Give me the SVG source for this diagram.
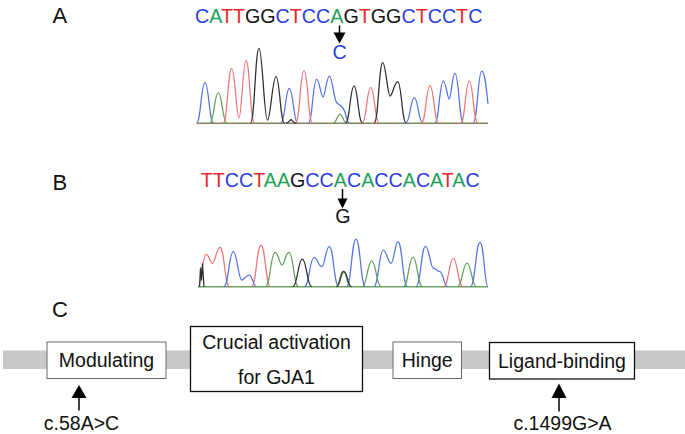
<svg xmlns="http://www.w3.org/2000/svg" width="685" height="434" viewBox="0 0 685 434">
<style>
text{font-family:"Liberation Sans",Arial,Helvetica,sans-serif;}
.lbl{font-size:22px;fill:#111;}
.seq{font-size:19.7px;}
.nA{fill:#1fa25a;}.nC{fill:#2b3ee0;}.nG{fill:#151515;}.nT{fill:#e8282c;}
.tr{fill:none;stroke-width:1.25;stroke-linejoin:round;}
.tb{stroke:#5273e6;}.tg{stroke:#62a05a;}.trd{stroke:#ee7676;}.tk{stroke:#2e2e2e;}
.box{fill:#fff;}
.thin{stroke:#6a6a6a;stroke-width:1;}
.thick{stroke:#111;stroke-width:1.3;}
.bt{font-size:19.5px;fill:#111;text-anchor:middle;}
.arr{stroke:#000;stroke-width:1.5;fill:none;}
</style>

<g id="panel-labels">
<text class="lbl" x="52.5" y="22.7">A</text>
<text class="lbl" x="52.5" y="190">B</text>
<text class="lbl" x="52" y="316.5">C</text>
</g>

<g id="seqA">
<text class="seq" x="195" y="22.7"><tspan class="nC">C</tspan><tspan class="nA">A</tspan><tspan class="nT">TT</tspan><tspan class="nG">GG</tspan><tspan class="nC">C</tspan><tspan class="nT">T</tspan><tspan class="nC">CC</tspan><tspan class="nA">A</tspan><tspan class="nG">G</tspan><tspan class="nT">T</tspan><tspan class="nG">GG</tspan><tspan class="nC">C</tspan><tspan class="nT">T</tspan><tspan class="nC">CC</tspan><tspan class="nT">T</tspan><tspan class="nC">C</tspan></text>
<line class="arr" x1="339.5" y1="25.5" x2="339.5" y2="33.5"/>
<polygon points="333.5,32.5 345.5,32.5 339.5,43.5" fill="#000"/>
<text class="seq nC" x="339.5" y="59.3" text-anchor="middle">C</text>
</g>

<g id="chromA">
<line x1="197" y1="123.3" x2="488" y2="123.3" stroke="#6f8f5a" stroke-width="1.4"/>
<line x1="197" y1="123.6" x2="488" y2="123.6" stroke="#d06a60" stroke-width="0.8" stroke-dasharray="7 9"/>
<path class="tr tb" d="M196.5,123 C200.75,123 201.2,82.7 205,82.7 C208.8,82.7 209.25,123 213.5,123
M280.8,123 C285.05,123 285.5,88.3 289.3,88.3 C293.1,88.3 293.55,123 297.8,123
M308.2,123 C312.45,123 312.9,79.3 316.7,79.3 C319.5,79.3 320.8,97 323,97 C325.2,97 326.5,76 329.3,76 C332.5,76 333.5,100 337,103 C340,105.5 343,106 345,112 C346.5,117 347,123 349.5,123
M405.8,123 C410.05,123 410.5,97.7 414.3,97.7 C418.1,97.7 418.55,123 422.8,123
M434.8,123 C439.05,123 439.5,81 443.3,81 C446,81 447.5,99 449.2,99 C451,99 452.3,73.3 455,73.3 C458.8,73.3 459.25,123 463.5,123
M473.2,123 C477.45,123 477.9,71 481.7,71 C485,71 486.5,90 488,104"/>
<path class="tr tg" d="M209.8,123 C214.05,123 214.5,92.7 218.3,92.7 C222.1,92.7 222.55,123 226.8,123
M333.5,123 C336.5,123 337.3,114 340,114 C342.7,114 343.5,123 346.5,123"/>
<path class="tr trd" d="M223.2,123 C227.45,123 227.9,68.3 231.7,68.3 C234.8,68.3 236.5,118 239,118 C241.5,118 243,60.7 246,60.7 C249.8,60.7 250.25,123 254.5,123
M295.5,123 C299.75,123 300.2,70.7 304,70.7 C307.8,70.7 308.25,123 312.5,123
M362.2,123 C366.45,123 366.9,87.7 370.7,87.7 C374.5,87.7 374.95,123 379.2,123
M421.5,123 C425.75,123 426.2,85.7 430,85.7 C433.8,85.7 434.25,123 438.5,123
M460.8,123 C465.05,123 465.5,81 469.3,81 C473.1,81 473.55,123 477.8,123"/>
<path class="tr tk" d="M250.5,123 C254.75,123 255.2,48.3 259,48.3 C262.5,48.3 264,120 267.5,120 C270.5,120 272.5,76.7 276,76.7 C279.8,76.7 280.25,123 284.5,123
M286,123 C289,123 290,119.5 291,119.5 C292,119.5 293,123 296,123
M345.5,123 C349.75,123 350.2,86 354,86 C357.8,86 358.25,123 362.5,123
M374.2,123 C378.45,123 378.9,62.7 382.7,62.7 C385.8,62.7 387.5,96 390,96 C392.5,96 394.5,81.7 397.7,81.7 C401.5,81.7 401.95,123 406.2,123"/>
</g>

<g id="seqB">
<text class="seq" x="200.7" y="186.5"><tspan class="nT">TT</tspan><tspan class="nC">CC</tspan><tspan class="nT">T</tspan><tspan class="nA">AA</tspan><tspan class="nG">G</tspan><tspan class="nC">CC</tspan><tspan class="nA">A</tspan><tspan class="nC">C</tspan><tspan class="nA">A</tspan><tspan class="nC">CC</tspan><tspan class="nA">A</tspan><tspan class="nC">C</tspan><tspan class="nA">A</tspan><tspan class="nT">T</tspan><tspan class="nA">A</tspan><tspan class="nC">C</tspan></text>
<line class="arr" x1="342.5" y1="189" x2="342.5" y2="199"/>
<polygon points="337.5,198.5 347.5,198.5 342.5,208.5" fill="#000"/>
<text class="seq nG" x="343" y="223" text-anchor="middle">G</text>
</g>

<g id="chromB">
<line x1="198" y1="286.7" x2="488" y2="286.7" stroke="#6fa060" stroke-width="1.6"/>
<path class="tr trd" d="M198.5,286.7 C201.5,286.7 202.5,254.3 206,254.3 C209,254.3 210,263.3 212.5,263.3 C215,263.3 216.5,247.3 220,247.3 C224.3,247.3 224.75,286.7 229.5,286.7
M251.5,286.7 C256.25,286.7 256.7,245 261,245 C265.3,245 265.75,286.7 270.5,286.7
M443.8,286.7 C448.55,286.7 449,258.3 453.3,258.3 C457.6,258.3 458.05,286.7 462.8,286.7"/>
<path class="tr tb" d="M223.8,286.7 C228.55,286.7 229,251.7 233.3,251.7 C237,251.7 238.5,280 241.7,280 C244.5,280 246,275 249.3,275 C252.5,275 253,286.7 256.5,286.7
M304.5,286.7 C309.25,286.7 309.7,257.3 314,257.3 C317.3,257.3 318.5,266.7 321.7,266.7 C324.8,266.7 325.8,246.7 329.3,246.7 C333.6,246.7 334.05,286.7 338.8,286.7
M346.5,286.7 C351.25,286.7 351.7,239 356,239 C360.3,239 360.75,286.7 365.5,286.7
M373.8,286.7 C378.55,286.7 379,250 383.3,250 C386.5,250 388,263.3 391,263.3 C394,263.3 395,241.5 398,241.5 C402.3,241.5 402.75,286.7 407.5,286.7
M416,286.7 C420.75,286.7 421.2,246.3 425.5,246.3 C429,246.3 430.5,268 433.3,268 C436,268 437,271.5 440,271.5 C443,271.5 444,286.7 447.5,286.7
M470.5,286.7 C475.25,286.7 475.7,242.3 480,242.3 C484,242.3 484.5,286.7 488,286.7"/>
<path class="tr tg" d="M265.5,286.7 C270.25,286.7 270.7,252.3 275,252.3 C278.5,252.3 279.5,265 282,265 C284.5,265 285.5,252.3 289,252.3 C293.3,252.3 293.75,286.7 298.5,286.7
M336,286.7 C339.7,286.7 340,271 343.3,271 C346.6,271 346.9,286.7 350.6,286.7
M362.2,286.7 C366.95,286.7 367.4,261 371.7,261 C376,261 376.45,286.7 381.2,286.7
M403.5,286.7 C408.25,286.7 408.7,257 413,257 C417.3,257 417.75,286.7 422.5,286.7
M457.5,286.7 C462.25,286.7 462.7,263 467,263 C471.3,263 471.75,286.7 476.5,286.7"/>
<path class="tr tk" d="M199.5,286.7 L200.5,268 L201.5,280 L202.5,264 L204,286.7
M292.8,286.7 C297.55,286.7 298,259 302.3,259 C306.6,259 307.05,286.7 311.8,286.7
M336.5,286.7 C340.2,286.7 340.5,271.7 344,271.7 C347.5,271.7 347.8,286.7 351.5,286.7"/>
</g>

<rect id="backbone" x="3" y="350.5" width="682" height="18.5" fill="#c8c8c8"/>

<g id="node-modulating">
<rect class="box thin" x="47" y="342" width="119" height="36.5"/>
<text class="bt" x="106.5" y="367">Modulating</text>
</g>
<g id="node-crucial">
<rect class="box thick" x="190.5" y="326.5" width="172" height="65"/>
<text class="bt" x="276.5" y="348.5">Crucial activation</text>
<text class="bt" x="276.5" y="383.5">for GJA1</text>
</g>
<g id="node-hinge">
<rect class="box thin" x="393" y="342" width="68.5" height="36.5"/>
<text class="bt" x="427.2" y="367">Hinge</text>
</g>
<g id="node-ligand">
<rect class="box thick" x="489.5" y="342.5" width="145" height="36.5"/>
<text class="bt" x="562" y="367.5">Ligand-binding</text>
</g>

<g id="connectors">
<line class="arr" x1="79" y1="396" x2="79" y2="410.5"/>
<polygon points="79,385 71.5,398 86.5,398" fill="#000"/>
<line class="arr" x1="559" y1="396" x2="559" y2="411.5"/>
<polygon points="559,383.5 551.5,398 566.5,398" fill="#000"/>
</g>

<g id="mutation-labels">
<text class="bt" x="81.5" y="430">c.58A&gt;C</text>
<text class="bt" x="562.5" y="429.5">c.1499G&gt;A</text>
</g>
</svg>
